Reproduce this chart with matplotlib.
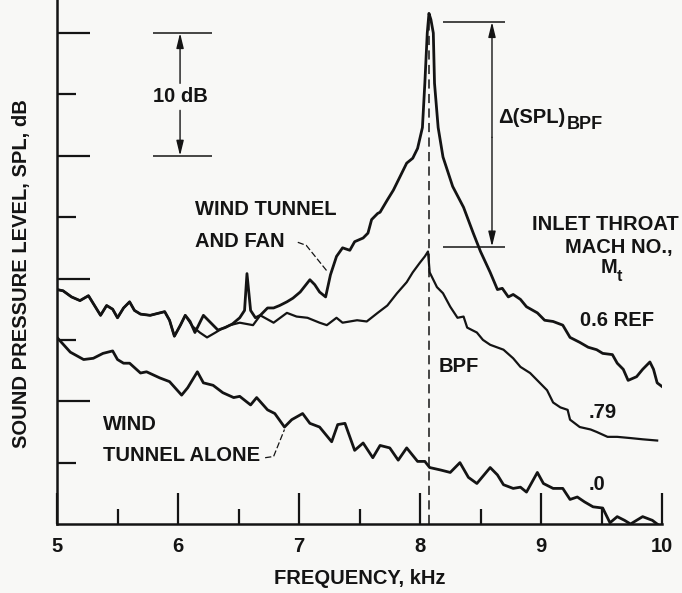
import matplotlib
matplotlib.use("Agg")
import matplotlib.pyplot as plt

plt.rcParams['font.family'] = ['Liberation Sans', 'DejaVu Sans']
plt.rcParams['font.weight'] = 'bold'

# frequency (kHz) / relative SPL (dB)
freq_06 = [5.00, 5.05, 5.12, 5.19, 5.26, 5.31, 5.36, 5.41, 5.46, 5.50, 5.55, 5.60, 5.64, 5.69,
           5.77, 5.85, 5.89, 5.93, 5.97, 6.02, 6.06, 6.10, 6.14, 6.21, 6.26, 6.33, 6.39, 6.45,
           6.51, 6.55, 6.57, 6.60, 6.64, 6.68, 6.74, 6.79, 6.84, 6.90, 6.95, 7.01, 7.05, 7.09,
           7.13, 7.17, 7.22, 7.26, 7.31, 7.36, 7.42, 7.46, 7.53, 7.57, 7.60, 7.65, 7.67, 7.73,
           7.78, 7.82, 7.86, 7.89, 7.94, 7.98, 8.02, 8.04, 8.06, 8.074, 8.09, 8.11, 8.12, 8.15,
           8.19, 8.27, 8.36, 8.44, 8.50, 8.58, 8.64, 8.68, 8.73, 8.77, 8.83, 8.88, 8.97, 9.03,
           9.10, 9.18, 9.24, 9.32, 9.39, 9.46, 9.51, 9.59, 9.63, 9.68, 9.72, 9.79, 9.84, 9.90,
           9.93, 9.96, 10.00]
spl_06 = [19.1, 19.0, 18.5, 18.2, 18.6, 17.8, 17.0, 17.8, 17.5, 16.8, 17.6, 18.1, 17.4, 17.1,
          17.0, 17.2, 17.3, 16.6, 15.3, 16.2, 17.0, 16.5, 15.6, 17.0, 16.5, 15.8, 16.0, 16.3,
          16.8, 17.4, 20.4, 17.4, 16.8, 17.0, 17.6, 17.6, 17.8, 18.1, 18.4, 18.9, 19.4, 19.9,
          19.5, 18.9, 18.5, 20.3, 21.8, 22.5, 22.3, 23.0, 23.3, 23.7, 24.8, 25.3, 25.4, 26.4,
          27.2, 28.0, 28.8, 29.4, 29.8, 30.6, 32.3, 35.9, 40.0, 41.6, 41.1, 40.0, 35.9, 32.3,
          29.9, 27.5, 25.8, 23.7, 22.2, 20.5, 19.1, 19.2, 18.5, 18.7, 18.3, 17.7, 17.2, 16.6,
          16.5, 16.2, 15.2, 14.8, 14.4, 14.2, 13.9, 13.8, 13.1, 12.6, 11.7, 12.0, 12.6, 13.2,
          12.6, 11.5, 11.2]

freq_079 = [5.00, 5.05, 5.12, 5.19, 5.26, 5.31, 5.36, 5.41, 5.46, 5.50, 5.55, 5.60, 5.64, 5.69,
            5.77, 5.85, 5.89, 5.93, 5.97, 6.02, 6.06, 6.12, 6.18, 6.24, 6.31, 6.36, 6.43, 6.51,
            6.62, 6.68, 6.79, 6.90, 6.98, 7.07, 7.17, 7.23, 7.31, 7.36, 7.48, 7.56, 7.65, 7.73,
            7.81, 7.89, 7.94, 8.00, 8.04, 8.066, 8.08, 8.14, 8.19, 8.25, 8.31, 8.36, 8.39, 8.47,
            8.52, 8.58, 8.69, 8.77, 8.83, 8.91, 8.99, 9.05, 9.10, 9.16, 9.22, 9.24, 9.32, 9.41,
            9.46, 9.55, 9.63, 9.74, 9.84, 9.96]
spl_079 = [19.1, 19.0, 18.5, 18.2, 18.6, 17.8, 17.0, 17.8, 17.5, 16.8, 17.6, 18.1, 17.4, 17.1,
           17.0, 17.2, 17.3, 16.6, 15.3, 16.2, 17.0, 16.1, 15.6, 15.2, 15.6, 15.9, 16.2, 16.4,
           16.2, 17.0, 16.4, 17.2, 16.9, 16.8, 16.4, 16.2, 16.8, 16.4, 16.6, 16.5, 17.2, 17.8,
           18.8, 19.7, 20.5, 21.3, 21.8, 22.2, 20.5, 19.3, 18.8, 17.7, 16.8, 16.9, 16.0, 15.6,
           15.0, 14.6, 14.2, 13.5, 12.8, 12.3, 11.5, 10.9, 9.9, 9.5, 9.3, 8.5, 7.9, 7.7,
           7.5, 7.1, 7.1, 7.0, 6.9, 6.8]

freq_00 = [5.00, 5.11, 5.22, 5.30, 5.38, 5.46, 5.50, 5.55, 5.60, 5.69, 5.74, 5.85, 5.93, 6.03,
           6.08, 6.16, 6.21, 6.29, 6.37, 6.46, 6.51, 6.60, 6.65, 6.74, 6.80, 6.88, 6.94, 7.03,
           7.09, 7.17, 7.27, 7.32, 7.38, 7.46, 7.53, 7.61, 7.67, 7.75, 7.82, 7.89, 7.98, 8.04,
           8.08, 8.17, 8.25, 8.33, 8.40, 8.47, 8.58, 8.64, 8.69, 8.77, 8.83, 8.88, 8.97, 9.02,
           9.10, 9.18, 9.24, 9.30, 9.36, 9.43, 9.51, 9.57, 9.63, 9.69, 9.74, 9.79, 9.84, 9.92,
           9.96]
spl_00 = [15.2, 14.0, 13.4, 13.5, 13.9, 14.1, 13.4, 13.1, 13.1, 12.3, 12.4, 11.9, 11.6, 10.5,
          11.1, 12.4, 11.5, 11.3, 10.7, 10.3, 10.4, 9.7, 10.3, 9.3, 9.0, 7.9, 8.5, 9.0,
          8.2, 7.9, 6.7, 8.1, 8.2, 6.0, 6.6, 5.4, 6.4, 6.2, 5.2, 6.2, 5.1, 5.1,
          4.6, 4.4, 4.2, 5.0, 3.8, 3.3, 4.6, 4.0, 3.2, 2.9, 3.0, 2.6, 4.2, 3.3,
          2.9, 2.9, 2.0, 2.2, 1.8, 1.4, 1.3, 0.1, 0.6, 0.3, 0.0, 0.3, 0.6, 0.3,
          0.0]

bpf = 8.074
peak_db = 41.6
x_ticks = [5, 6, 7, 8, 9, 10]
ink = '#141414'
fs = 14.5

fig = plt.figure(figsize=(6.82, 5.93), dpi=100)
fig.patch.set_facecolor('#f8f8f6')
ax = fig.add_axes([57 / 682, 69 / 593, 605 / 682, 524 / 593])
ax.set_facecolor('none')

ax.plot(freq_06, spl_06, color=ink, lw=2.0, solid_joinstyle='round')
ax.plot(freq_079, spl_079, color=ink, lw=1.6, solid_joinstyle='round')
ax.plot(freq_00, spl_00, color=ink, lw=2.0, solid_joinstyle='round')
ax.vlines(bpf, 0, peak_db, colors=ink, linestyles=(0, (6, 3.5)), lw=1.1)

ax.set_xlim(5, 10)
ax.set_ylim(0, 42.69)
for s in ['top', 'right']:
    ax.spines[s].set_visible(False)
for s in ['left', 'bottom']:
    ax.spines[s].set_linewidth(1.8)
    ax.spines[s].set_color(ink)

ax.set_xticks(x_ticks)
ax.set_xticks([5.5, 6.5, 7.5, 8.5, 9.5], minor=True)
ax.set_yticks([10, 20, 30, 40])
ax.set_yticks([5, 15, 25, 35], minor=True)
ax.set_yticklabels([])
ax.tick_params(axis='x', which='major', direction='in', length=22, width=1.6, colors=ink,
               labelsize=14.5, pad=9)
ax.tick_params(axis='x', which='minor', direction='in', length=11, width=1.6, colors=ink)
ax.tick_params(axis='y', which='major', direction='in', length=24, width=1.6, colors=ink)
ax.tick_params(axis='y', which='minor', direction='in', length=14, width=1.6, colors=ink)

fig.text(360 / 682, 1 - 578 / 593, 'FREQUENCY, kHz', ha='center', va='center', fontsize=fs, color=ink)
fig.text(22 / 682, 1 - 274 / 593, 'SOUND PRESSURE LEVEL, SPL, dB', rotation=90,
         ha='center', va='center', fontsize=fs, color=ink)

# 10 dB scale bracket
ax.hlines([40, 30], 5.79, 6.28, colors=ink, lw=1.1)
arr = dict(arrowstyle='-|>,head_length=0.9,head_width=0.22', color=ink, lw=1.0, shrinkA=0, shrinkB=0)
ax.annotate('', xy=(6.017, 40), xytext=(6.017, 35.9), arrowprops=arr)
ax.annotate('', xy=(6.017, 30), xytext=(6.017, 33.7), arrowprops=arr)
ax.text(6.017, 34.8, '10 dB', ha='center', va='center', fontsize=fs, color=ink)

# delta SPL bracket
ax.hlines([40.9, 22.6], 8.19, 8.70, colors=ink, lw=1.1)
ax.annotate('', xy=(8.595, 40.9), xytext=(8.595, 31.5), arrowprops=arr)
ax.annotate('', xy=(8.595, 22.6), xytext=(8.595, 31.5), arrowprops=arr)
dtxt = ax.text(8.644, 33.1, 'Δ(SPL)', ha='left', va='center', fontsize=fs, color=ink)
ax.annotate('BPF', xy=(1, 0), xycoords=dtxt, xytext=(1, 2), textcoords='offset points',
            ha='left', va='center', fontsize=13, color=ink)

# curve labels
ax.text(6.14, 25.6, 'WIND TUNNEL', ha='left', va='center', fontsize=fs, color=ink)
ax.text(6.14, 23.0, 'AND FAN', ha='left', va='center', fontsize=fs, color=ink)
ax.plot([6.99, 7.06, 7.24], [22.95, 22.7, 20.5], color=ink, lw=0.9, ls=(0, (5, 2)))

ax.text(5.38, 8.1, 'WIND', ha='left', va='center', fontsize=fs, color=ink)
ax.text(5.38, 5.6, 'TUNNEL ALONE', ha='left', va='center', fontsize=fs, color=ink)
ax.plot([6.72, 6.79, 6.88], [5.4, 5.5, 7.7], color=ink, lw=0.9, ls=(0, (5, 2)))

ax.text(10.14, 24.4, 'INLET THROAT', ha='right', va='center', fontsize=fs, color=ink, clip_on=False)
ax.text(9.645, 22.55, 'MACH NO.,', ha='center', va='center', fontsize=fs, color=ink, clip_on=False)
mtxt = ax.text(9.63, 20.9, 'M', ha='right', va='center', fontsize=fs, color=ink)
ax.annotate('t', xy=(1, 0), xycoords=mtxt, xytext=(0, 0), textcoords='offset points',
            ha='left', va='center', fontsize=11.5, color=ink)

ax.text(9.32, 16.6, '0.6 REF', ha='left', va='center', fontsize=fs, color=ink)
ax.text(8.15, 12.8, 'BPF', ha='left', va='center', fontsize=fs, color=ink)
ax.text(9.39, 9.1, '.79', ha='left', va='center', fontsize=fs, color=ink)
ax.text(9.39, 3.2, '.0', ha='left', va='center', fontsize=fs, color=ink)

fig.savefig('out.png', dpi=100, facecolor=fig.get_facecolor())
